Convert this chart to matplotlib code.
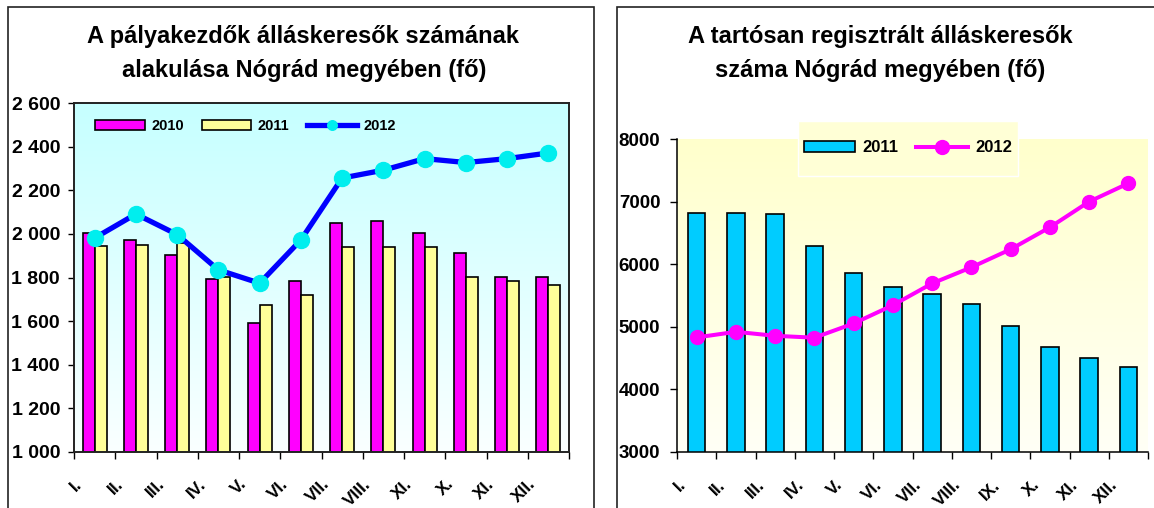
import numpy as np
import matplotlib
matplotlib.use('Agg')
import matplotlib.pyplot as plt
from matplotlib.patches import Rectangle
from matplotlib.transforms import ScaledTranslation
from matplotlib.ticker import FuncFormatter


plt.rcParams['font.family'] = ['Liberation Sans', 'DejaVu Sans']
plt.rcParams['font.weight'] = 'bold'

# left chart data
monthsLeft = ['I.', 'II.', 'III.', 'IV.', 'V.', 'VI.', 'VII.', 'VIII.', 'XI.', 'X.', 'XI.', 'XII.']
palya2010 = [2005, 1970, 1905, 1795, 1592, 1786, 2050, 2060, 2005, 1913, 1802, 1802]
palya2011 = [1945, 1950, 1958, 1804, 1676, 1721, 1942, 1942, 1942, 1802, 1784, 1767]
palya2012 = [1981, 2091, 1997, 1835, 1774, 1972, 2256, 2292, 2345, 2327, 2345, 2371]

# right chart data
monthsRight = ['I.', 'II.', 'III.', 'IV.', 'V.', 'VI.', 'VII.', 'VIII.', 'IX.', 'X.', 'XI.', 'XII.']
tartos2011 = [6820, 6820, 6795, 6285, 5862, 5641, 5522, 5359, 5013, 4685, 4497, 4365]
tartos2012 = [4830, 4920, 4856, 4826, 5053, 5345, 5693, 5950, 6238, 6589, 6999, 7292]

W, H = 1154, 508
fig = plt.figure(figsize=(W / 100, H / 100), dpi=100)
fig.patch.set_facecolor('white')


def figBox(x0, y0, x1, y1):
    # pixel box (top-left origin) -> figure fraction rect
    return [x0 / W, (H - y1) / H, (x1 - x0) / W, (y1 - y0) / H]


# panel frames
for x0, x1 in [(8, 594), (617, 1160)]:
    fig.patches.append(Rectangle((x0 / W, -0.1), (x1 - x0) / W, 0.1 + (H - 7) / H,
                                 transform=fig.transFigure, fill=False,
                                 edgecolor='#222222', linewidth=1.2, zorder=0))


def gradient(ax, top, bottom):
    t = np.array(matplotlib.colors.to_rgb(top))
    b = np.array(matplotlib.colors.to_rgb(bottom))
    f = np.linspace(0, 1, 256)[:, None]
    img = (t * (1 - f) + b * f)[:, None, :]
    ax.imshow(img, extent=[0, 1, 0, 1], transform=ax.transAxes, aspect='auto', zorder=0)


def setMonthTicks(ax, labels, pad, shift):
    n = len(labels)
    ax.set_xlim(-0.5, n - 0.5)
    ax.set_xticks(np.arange(-0.5, n, 1.0))
    ax.set_xticklabels([])
    ax.set_xticks(np.arange(n), minor=True)
    ax.set_xticklabels(labels, minor=True, rotation=45, ha='right', va='top',
                       fontsize=12.5, fontweight='bold')
    ax.tick_params(axis='x', which='minor', length=0, pad=pad)
    ax.tick_params(axis='x', which='major', length=5, width=1, direction='out')
    for lab in ax.get_xticklabels(minor=True):
        lab.set_transform(lab.get_transform() + ScaledTranslation(shift / 72, 0, fig.dpi_scale_trans))


# ---------------- left chart ----------------
ax1 = fig.add_axes(figBox(74, 103, 569, 452))
gradient(ax1, '#C6FFFF', '#FAFFFF')
x = np.arange(len(monthsLeft))
bw = 0.29
b10 = ax1.bar(x - bw / 2, palya2010, bw, color='#FF00FF', edgecolor='black', linewidth=1.2, label='2010', zorder=2)
b11 = ax1.bar(x + bw / 2, palya2011, bw, color='#FFFF99', edgecolor='black', linewidth=1.2, label='2011', zorder=2)
l12, = ax1.plot(x, palya2012, color='#0000FF', linewidth=3.8, marker='o', markersize=11.5,
                markerfacecolor='#00EEEE', markeredgecolor='#00EEEE', label='2012', zorder=3)
ax1.set_ylim(1000, 2600)
ax1.set_yticks(np.arange(1000, 2601, 200))
ax1.yaxis.set_major_formatter(FuncFormatter(lambda v, p: f"{int(v):,}".replace(',', ' ')))
ax1.tick_params(axis='y', length=4.5, width=1, pad=5.5, labelsize=14)
for lab in ax1.get_yticklabels():
    lab.set_fontweight('bold')
setMonthTicks(ax1, monthsLeft, 17.5, -7)
for s in ax1.spines.values():
    s.set_linewidth(1.4)
    s.set_color('#222222')
ax1.legend(handles=[b10, b11, l12], loc='center', bbox_to_anchor=(245.5 / W, (H - 126) / H),
           bbox_transform=fig.transFigure, ncol=3, frameon=False, handlelength=3.4, handleheight=0.65,
           handletextpad=0.45, columnspacing=1.2, numpoints=1, markerscale=0.6,
           prop={'weight': 'bold', 'size': 10.5})

fig.text(303 / W, (H - 37) / H, 'A pályakezdők álláskeresők számának', ha='center', va='center',
         fontsize=17, fontweight='bold')
fig.text(304 / W, (H - 70) / H, 'alakulása Nógrád megyében (fő)', ha='center', va='center',
         fontsize=17, fontweight='bold')

# ---------------- right chart ----------------
ax2 = fig.add_axes(figBox(677, 139, 1148, 452))
ax2.patch.set_visible(False)
gradient(ax2, '#FFFFCC', '#FFFFF6')
x = np.arange(len(monthsRight))
b2011 = ax2.bar(x, tartos2011, 0.45, color='#00CCFF', edgecolor='black', linewidth=1.2, label='2011', zorder=2)
l2012, = ax2.plot(x, tartos2012, color='#FF00FF', linewidth=2.9, marker='o', markersize=10,
                  markerfacecolor='#FF00FF', markeredgecolor='#FF00FF', label='2012', zorder=3)
ax2.set_ylim(3000, 8000)
ax2.set_yticks(np.arange(3000, 8001, 1000))
ax2.tick_params(axis='y', length=5, width=1, pad=7, labelsize=13.5)
for lab in ax2.get_yticklabels():
    lab.set_fontweight('bold')
setMonthTicks(ax2, monthsRight, 18, -5.5)
ax2.spines['top'].set_visible(False)
ax2.spines['right'].set_visible(False)
ax2.spines['left'].set_linewidth(1.1)
ax2.spines['bottom'].set_linewidth(1.1)

fig.patches.append(Rectangle((798 / W, (H - 176) / H), 220 / W, 55 / H, transform=fig.transFigure,
                             facecolor='#FFFFD6', edgecolor='white', linewidth=1, zorder=4))
leg2 = fig.legend(handles=[b2011, l2012], loc='center', bbox_to_anchor=(908 / W, (H - 148) / H),
                  bbox_transform=fig.transFigure, ncol=2, frameon=False, handlelength=3.1,
                  handleheight=0.6, handletextpad=0.45, columnspacing=1.05, numpoints=1,
                  prop={'weight': 'bold', 'size': 12})
leg2.set_zorder(5)

fig.text(880 / W, (H - 37) / H, 'A tartósan regisztrált álláskeresők', ha='center', va='center',
         fontsize=17, fontweight='bold')
fig.text(880 / W, (H - 70) / H, 'száma Nógrád megyében (fő)', ha='center', va='center',
         fontsize=17, fontweight='bold')

plt.savefig('out.png', dpi=100)
